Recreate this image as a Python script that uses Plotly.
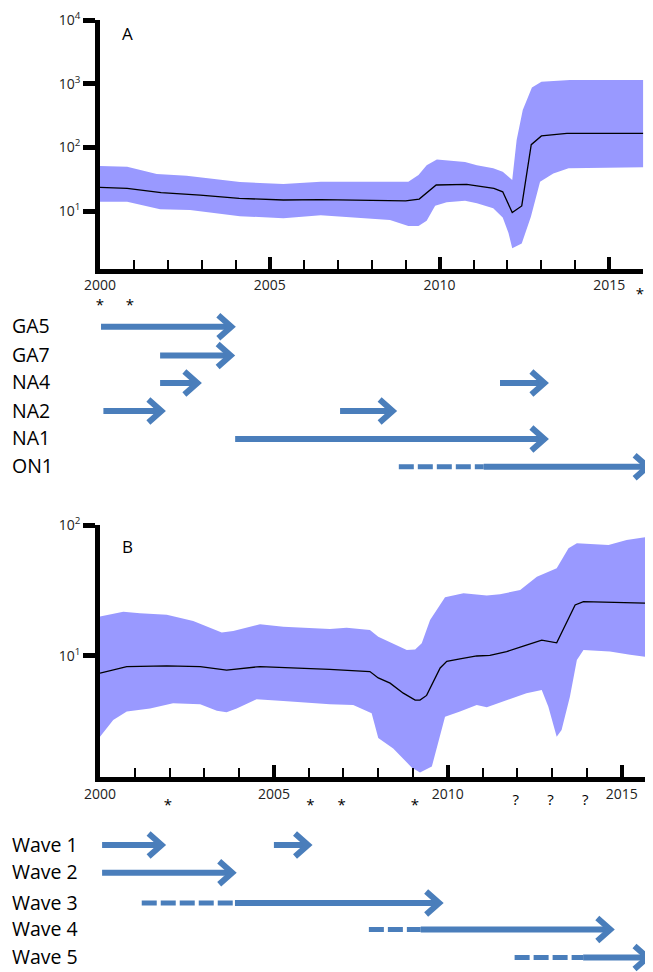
import plotly.graph_objects as go

# page is 653x972; the html body adds an 8px margin, so the figure is drawn 8px in
W_PAGE, H_PAGE = 653, 972
OFF = 8
W, H = W_PAGE - OFF, H_PAGE - OFF

# ------------------------------------------------------------------ data
# Panel A (values on log scale)
A_med_x = [2000.0, 2000.8, 2001.8, 2002.95, 2004.1, 2005.4, 2006.5, 2009.0, 2009.4, 2009.9,
           2010.8, 2011.6, 2011.86, 2012.14, 2012.42, 2012.7, 2013.0, 2013.75, 2016.0]
A_med_y = [23.5, 22.7, 19.4, 17.8, 15.8, 14.9, 15.1, 14.4, 15.4, 25.6,
           26.2, 22.7, 20.0, 9.5, 12.0, 110, 151, 166, 166]
A_up_x = [2000.0, 2000.8, 2001.67, 2002.55, 2004.12, 2005.4, 2006.5, 2009.08, 2009.38, 2009.62,
          2009.92, 2010.75, 2011.1, 2011.58, 2011.86, 2012.14, 2012.27, 2012.45, 2012.72, 2013.0,
          2013.84, 2016.0]
A_up_y = [51, 49.7, 38, 35.9, 28.5, 26.5, 28.8, 28.8, 36.7, 52.5,
          64.6, 58.9, 52.5, 46.8, 41.4, 30.7, 130, 385, 871, 1070,
          1140, 1140]
A_lo_x = [2000.0, 2000.8, 2001.77, 2002.65, 2004.12, 2005.4, 2006.5, 2008.54, 2009.08, 2009.38,
          2009.62, 2009.87, 2010.21, 2010.75, 2011.1, 2011.58, 2011.86, 2012.03, 2012.14, 2012.42,
          2012.69, 2012.96, 2013.35, 2013.8, 2016.0]
A_lo_y = [14.0, 14.0, 10.7, 10.4, 8.3, 7.7, 8.6, 7.2, 5.8, 5.8,
          7.0, 12.1, 13.7, 14.5, 13.2, 11.0, 7.9, 4.5, 2.6, 3.1,
          8.1, 28.8, 38.9, 46.8, 48.5]

# Panel B
B_med_x = [2000.0, 2000.77, 2001.92, 2002.88, 2003.64, 2004.6, 2006.6, 2007.76, 2008.0, 2008.34,
           2008.72, 2009.06, 2009.2, 2009.39, 2009.78, 2009.97, 2010.35, 2010.83, 2011.21, 2011.69,
           2012.17, 2012.7, 2013.13, 2013.27, 2013.66, 2013.9, 2014.76, 2015.87]
B_med_y = [7.4, 8.3, 8.4, 8.3, 7.8, 8.3, 7.9, 7.6, 6.8, 6.2,
           5.2, 4.6, 4.6, 5.0, 8.1, 9.1, 9.5, 10.0, 10.1, 10.8,
           11.9, 13.2, 12.6, 15.1, 24.5, 26.0, 25.5, 25.2]
B_up_x = [2000.0, 2000.67, 2001.15, 2001.92, 2002.68, 2003.5, 2003.83, 2004.6, 2005.27, 2006.61,
          2007.09, 2007.76, 2008.0, 2008.39, 2008.82, 2009.06, 2009.25, 2009.49, 2009.92, 2010.45,
          2011.12, 2011.5, 2012.08, 2012.56, 2013.13, 2013.47, 2013.71, 2014.62, 2015.14, 2015.87]
B_up_y = [20.0, 21.8, 21.2, 20.6, 18.5, 15.1, 15.5, 17.5, 16.7, 16.1,
          16.4, 15.8, 14.0, 12.6, 11.1, 11.2, 12.5, 18.8, 28.1, 30.1,
          29.0, 29.6, 31.9, 40.3, 46.7, 66.4, 72.4, 70.3, 76.7, 82.4]
B_lo_x = [2000.0, 2000.38, 2000.77, 2001.44, 2002.1, 2002.88, 2003.36, 2003.64, 2003.93, 2004.5,
          2005.27, 2006.61, 2007.28, 2007.81, 2008.0, 2008.43, 2008.96, 2009.2, 2009.54, 2009.92,
          2010.35, 2010.83, 2011.12, 2011.69, 2012.26, 2012.7, 2012.89, 2013.13, 2013.27, 2013.51,
          2013.71, 2013.9, 2014.66, 2015.24, 2015.87]
B_lo_y = [2.42, 3.24, 3.76, 3.98, 4.36, 4.28, 3.82, 3.72, 3.98, 4.67,
          4.53, 4.28, 4.23, 3.66, 2.36, 1.97, 1.41, 1.29, 1.43, 3.44,
          3.76, 4.23, 4.06, 4.61, 5.19, 5.50, 4.10, 2.42, 2.72, 4.89,
          9.31, 11.1, 10.8, 10.2, 9.7]

A_ytick_vals = [10, 100, 1000, 10000]
A_ytick_text = ["10<sup>1</sup>", "10<sup>2</sup>", "10<sup>3</sup>", "10<sup>4</sup>"]
B_ytick_vals = [10, 100]
B_ytick_text = ["10<sup>1</sup>", "10<sup>2</sup>"]

# genotype arrows (panel A)
A_labels = ["GA5", "GA7", "NA4", "NA2", "NA1", "ON1"]
A_arrow_row = ["GA5", "GA7", "NA4", "NA4", "NA2", "NA2", "NA1", "ON1"]
A_arrow_start = [2000.03, 2001.77, 2001.77, 2011.78, 2000.1, 2007.07, 2003.98, 2008.8]
A_arrow_solid = [2000.03, 2001.77, 2001.77, 2011.78, 2000.1, 2007.07, 2003.98, 2011.3]
A_arrow_end = [2004.0, 2003.98, 2003.0, 2013.22, 2001.94, 2008.75, 2013.22, 2016.26]
A_mark_x = [2000.0, 2000.88, 2015.9]
A_mark_text = ["*", "*", "*"]

# wave arrows (panel B)
B_labels = ["Wave 1", "Wave 2", "Wave 3", "Wave 4", "Wave 5"]
B_arrow_row = ["Wave 1", "Wave 1", "Wave 2", "Wave 3", "Wave 4", "Wave 5"]
B_arrow_start = [2000.06, 2005.0, 2000.06, 2001.2, 2007.73, 2011.92]
B_arrow_solid = [2000.06, 2005.0, 2000.06, 2003.88, 2009.22, 2013.89]
B_arrow_end = [2001.9, 2006.11, 2003.93, 2009.88, 2014.8, 2015.87]
B_mark_x = [2001.95, 2006.05, 2006.95, 2009.05, 2011.95, 2012.95, 2013.95]
B_mark_text = ["*", "*", "*", "*", "?", "?", "?"]

# ------------------------------------------------------------------ layout constants (page pixels)
FONT = "Open Sans"
BAND = "#9999FF"
ARROW = "#4A7EBB"

XA_PX = (100, 643.3)
XA_RANGE = (2000, 2016)
YA_PX = (20, 268.5)
YA_RANGE = (0.097, 4)
XB_PX = (100, 652)
XB_RANGE = (2000, 2015.87)
YB_PX = (525, 777)
YB_RANGE = (0.076, 2)

A_row_px = {"GA5": 326.7, "GA7": 355.5, "NA4": 383, "NA2": 411, "NA1": 439, "ON1": 466.7}
B_row_px = {"Wave 1": 845, "Wave 2": 872.7, "Wave 3": 903, "Wave 4": 929.5, "Wave 5": 957.5}
LABEL_DY = -1
MARK_SIZE = 15
A_mark_row = [306, 306, 295.7]
B_mark_row = [806.5, 806.5, 806.5, 806.5, 800.8, 800.8, 800.8]


def px(p):
    return (p - OFF) / W


def py(p):
    return 1 - (p - OFF) / H


def full_range(dom_px, rng):
    s = (rng[1] - rng[0]) / (dom_px[1] - dom_px[0])
    left = dom_px[0] - OFF
    right = OFF + W - dom_px[1]
    return [rng[0] - left * s, rng[1] + right * s], s


X3_RANGE, SA = full_range(XA_PX, XA_RANGE)
X4_RANGE, SB = full_range(XB_PX, XB_RANGE)
PIX_RANGE = [OFF + H, OFF]   # helper y axes measured in page pixels (top = OFF)

fig = go.Figure()


def band(xl, yl, xu, yu, xm, ym, xa, ya):
    fig.add_trace(go.Scatter(x=xl, y=yl, mode="lines", line=dict(width=0, color=BAND),
                             xaxis=xa, yaxis=ya, showlegend=False, hoverinfo="skip"))
    fig.add_trace(go.Scatter(x=xu, y=yu, mode="lines", line=dict(width=0, color=BAND),
                             fill="tonexty", fillcolor=BAND,
                             xaxis=xa, yaxis=ya, showlegend=False, hoverinfo="skip"))
    fig.add_trace(go.Scatter(x=xm, y=ym, mode="lines", line=dict(width=1.3, color="black"),
                             xaxis=xa, yaxis=ya, showlegend=False))


band(A_lo_x, A_lo_y, A_up_x, A_up_y, A_med_x, A_med_y, "x", "y")
band(B_lo_x, B_lo_y, B_up_x, B_up_y, B_med_x, B_med_y, "x2", "y2")

# asterisks / question marks under the time axes
fig.add_trace(go.Scatter(x=A_mark_x, y=A_mark_row, mode="text", text=A_mark_text,
                         textposition="middle center",
                         textfont=dict(size=MARK_SIZE, family=FONT, color="black"),
                         xaxis="x3", yaxis="y3", showlegend=False, hoverinfo="skip"))
fig.add_trace(go.Scatter(x=B_mark_x, y=B_mark_row, mode="text", text=B_mark_text,
                         textposition="middle center",
                         textfont=dict(size=MARK_SIZE, family=FONT, color="black"),
                         xaxis="x4", yaxis="y4", showlegend=False, hoverinfo="skip"))

xcommon = dict(showline=True, linewidth=5, linecolor="black", ticks="inside", ticklen=12,
               tickwidth=4, tickcolor="black", tickmode="linear", tick0=2000, dtick=5,
               showgrid=False, zeroline=False, automargin=False,
               tickfont=dict(family=FONT, size=14, color="#222"),
               minor=dict(ticks="inside", ticklen=9, tickwidth=1.5, tickcolor="black",
                          tick0=2000, dtick=1, showgrid=False))
ycommon = dict(type="log", showline=True, linewidth=4.5, linecolor="black", ticks="outside",
               ticklen=12, tickwidth=4.5, tickcolor="black", tickmode="array",
               showgrid=False, zeroline=False, automargin=False,
               tickfont=dict(family=FONT, size=14, color="#222"))

fig.update_layout(
    width=W, height=H, autosize=False,
    margin=dict(l=0, r=0, t=0, b=0, pad=0, autoexpand=False),
    paper_bgcolor="white", plot_bgcolor="rgba(0,0,0,0)",
    font=dict(family=FONT, color="black"),
    showlegend=False,
    xaxis=dict(domain=[px(XA_PX[0]), px(XA_PX[1])], range=list(XA_RANGE), anchor="y", **xcommon),
    yaxis=dict(domain=[py(YA_PX[1]), py(YA_PX[0])], range=list(YA_RANGE), anchor="x",
               tickvals=A_ytick_vals, ticktext=A_ytick_text, **ycommon),
    xaxis2=dict(domain=[px(XB_PX[0]), px(XB_PX[1])], range=list(XB_RANGE), anchor="y2", **xcommon),
    yaxis2=dict(domain=[py(YB_PX[1]), py(YB_PX[0])], range=list(YB_RANGE), anchor="x2",
                tickvals=B_ytick_vals, ticktext=B_ytick_text, **ycommon),
    xaxis3=dict(domain=[0, 1], range=X3_RANGE, anchor="y3", visible=False),
    yaxis3=dict(domain=[0, 1], range=PIX_RANGE, anchor="x3", visible=False),
    xaxis4=dict(domain=[0, 1], range=X4_RANGE, anchor="y4", visible=False),
    yaxis4=dict(domain=[0, 1], range=PIX_RANGE, anchor="x4", visible=False),
)

shapes = []
annotations = []

# panel letters
annotations.append(dict(text="A", x=px(127.5), y=py(33), xref="paper", yref="paper",
                        xanchor="center", yanchor="middle",
                        showarrow=False, font=dict(size=17, family=FONT, color="black")))
annotations.append(dict(text="B", x=px(127.5), y=py(546), xref="paper", yref="paper",
                        xanchor="center", yanchor="middle",
                        showarrow=False, font=dict(size=17, family=FONT, color="black")))


def draw_arrows(labels, rows, starts, solids, ends, row_px, xref, scale):
    for lab in labels:
        annotations.append(dict(text=lab, x=px(10), y=py(row_px[lab] + LABEL_DY),
                                xref="paper", yref="paper",
                                xanchor="left", yanchor="middle", showarrow=False,
                                font=dict(size=19.5, family=FONT, color="black")))
    lw = 6
    miter = 4.5 * scale
    back = 13 * scale
    half = 11.5 / H
    for r, s0, s1, e in zip(rows, starts, solids, ends):
        y = py(row_px[r])
        apex = e - miter
        if s1 > s0:
            shapes.append(dict(type="line", xref=xref, yref="paper", x0=s0, x1=s1, y0=y, y1=y,
                               line=dict(color=ARROW, width=5, dash="15px,4px")))
        shapes.append(dict(type="line", xref=xref, yref="paper", x0=s1, x1=apex, y0=y, y1=y,
                           line=dict(color=ARROW, width=lw)))
        path = f"M {apex - back},{y + half} L {apex},{y} L {apex - back},{y - half}"
        shapes.append(dict(type="path", xref=xref, yref="paper", path=path,
                           line=dict(color=ARROW, width=lw)))


draw_arrows(A_labels, A_arrow_row, A_arrow_start, A_arrow_solid, A_arrow_end, A_row_px, "x3", SA)
draw_arrows(B_labels, B_arrow_row, B_arrow_start, B_arrow_solid, B_arrow_end, B_row_px, "x4", SB)

fig.update_layout(shapes=shapes, annotations=annotations)
fig.write_html("out.html")
